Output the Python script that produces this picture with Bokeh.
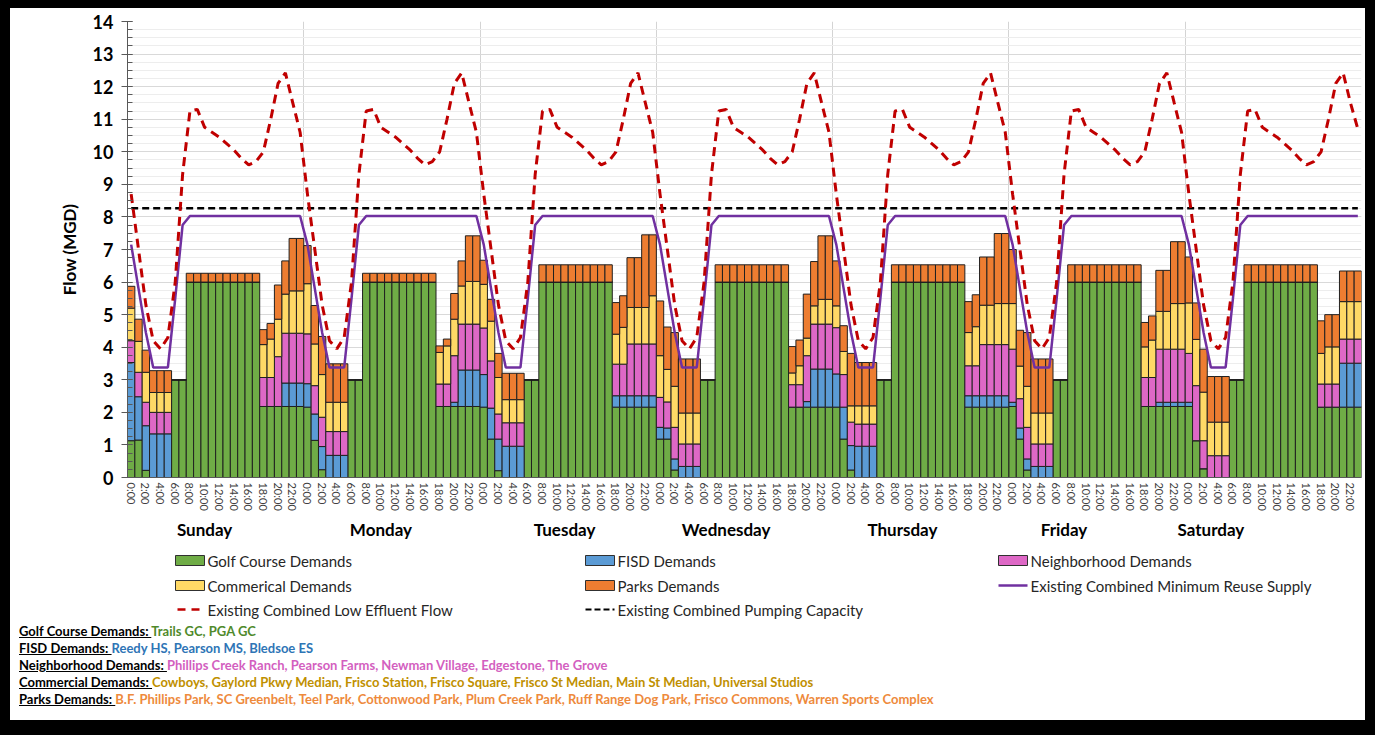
from bokeh.plotting import figure
from bokeh.models import ColumnDataSource, FixedTicker, SingleIntervalTicker, LinearAxis, Range1d, Div
from bokeh.layouts import column
from bokeh.embed import file_html
from bokeh.resources import INLINE
from bokeh.core.properties import value

# ---------------- data ----------------
DAYS = ["Sunday", "Monday", "Tuesday", "Wednesday", "Thursday", "Friday", "Saturday"]
DAY_LABEL_BAR = [10, 34, 59, 81, 105, 127, 147]
HOUR_LABELS = ["0:00", "1:00", "2:00", "3:00", "4:00", "5:00", "6:00", "7:00", "8:00", "9:00",
               "10:00", "11:00", "12:00", "13:00", "14:00", "15:00", "16:00", "17:00", "18:00",
               "19:00", "20:00", "21:00", "22:00", "23:00"]
SERIES = ["Golf Course Demands", "FISD Demands", "Neighborhood Demands", "Commerical Demands", "Parks Demands"]

golf = [
    1.13, 1.15, 0.22, 0, 0, 0, 3, 3, 6, 6, 6, 6, 6, 6, 6, 6, 6, 6, 2.18, 2.18, 2.18, 2.18, 2.18, 2.18,
    2.16, 1.14, 0.24, 0, 0, 0, 3, 3, 6, 6, 6, 6, 6, 6, 6, 6, 6, 6, 2.18, 2.18, 2.18, 2.18, 2.18, 2.18,
    2.16, 1.18, 0.21, 0, 0, 0, 3, 3, 6, 6, 6, 6, 6, 6, 6, 6, 6, 6, 2.16, 2.16, 2.16, 2.16, 2.16, 2.16,
    1.18, 1.18, 0.23, 0, 0, 0, 3, 3, 6, 6, 6, 6, 6, 6, 6, 6, 6, 6, 2.16, 2.16, 2.16, 2.16, 2.16, 2.16,
    2.16, 1.18, 0.23, 0, 0, 0, 3, 3, 6, 6, 6, 6, 6, 6, 6, 6, 6, 6, 2.16, 2.16, 2.16, 2.16, 2.16, 2.16,
    2.18, 1.18, 0.23, 0, 0, 0, 3, 3, 6, 6, 6, 6, 6, 6, 6, 6, 6, 6, 2.18, 2.18, 2.18, 2.18, 2.18, 2.18,
    2.18, 1.13, 0.27, 0, 0, 0, 3, 3, 6, 6, 6, 6, 6, 6, 6, 6, 6, 6, 2.16, 2.16, 2.16, 2.16, 2.16, 2.16,
]
fisd = [
    2.40, 1.33, 1.37, 1.34, 1.34, 1.34, 0, 0, 0, 0, 0, 0, 0, 0, 0, 0, 0, 0, 0, 0, 0, 0.72, 0.72, 0.72,
    0.72, 0.81, 0.71, 0.68, 0.68, 0.68, 0, 0, 0, 0, 0, 0, 0, 0, 0, 0, 0, 0, 0, 0, 0.13, 1.12, 1.12, 1.12,
    1.00, 0.95, 0.97, 0.96, 0.96, 0.96, 0, 0, 0, 0, 0, 0, 0, 0, 0, 0, 0, 0, 0.35, 0.35, 0.35, 0.35, 0.35, 0.35,
    0.36, 0.34, 0.34, 0.34, 0.34, 0.34, 0, 0, 0, 0, 0, 0, 0, 0, 0, 0, 0, 0, 0, 0, 0.17, 1.17, 1.17, 1.17,
    1.02, 0.98, 0.75, 0.96, 0.96, 0.96, 0, 0, 0, 0, 0, 0, 0, 0, 0, 0, 0, 0, 0.35, 0.35, 0.35, 0.35, 0.35, 0.35,
    0.13, 0.34, 0.34, 0.34, 0.34, 0.34, 0, 0, 0, 0, 0, 0, 0, 0, 0, 0, 0, 0, 0, 0, 0.13, 0.13, 0.13, 0.13,
    0.13, 0, 0, 0, 0, 0, 0, 0, 0, 0, 0, 0, 0, 0, 0, 0, 0, 0, 0, 0, 0, 1.35, 1.35, 1.35,
]
neighborhood = [
    0.67, 0.75, 0.72, 0.66, 0.66, 0.66, 0, 0, 0, 0, 0, 0, 0, 0, 0, 0, 0, 0, 0.89, 0.89, 1.53, 1.53, 1.53, 1.53,
    1.53, 0.87, 0.90, 0.73, 0.73, 0.73, 0, 0, 0, 0, 0, 0, 0, 0, 0, 0, 0, 0, 0.69, 0.69, 1.43, 1.41, 1.41, 1.41,
    1.43, 1.45, 0.77, 0.72, 0.72, 0.72, 0, 0, 0, 0, 0, 0, 0, 0, 0, 0, 0, 0, 0.97, 0.97, 1.59, 1.59, 1.59, 1.59,
    0.92, 0.80, 0.97, 0.69, 0.69, 0.69, 0, 0, 0, 0, 0, 0, 0, 0, 0, 0, 0, 0, 0.69, 0.69, 1.41, 1.38, 1.38, 1.38,
    1.42, 1.00, 0.72, 0.68, 0.68, 0.68, 0, 0, 0, 0, 0, 0, 0, 0, 0, 0, 0, 0, 0.92, 0.92, 1.57, 1.57, 1.57, 1.57,
    1.63, 0.90, 0.97, 0.69, 0.69, 0.69, 0, 0, 0, 0, 0, 0, 0, 0, 0, 0, 0, 0, 0.89, 0.89, 1.63, 1.63, 1.63, 1.63,
    1.50, 1.69, 0.86, 0.67, 0.67, 0.67, 0, 0, 0, 0, 0, 0, 0, 0, 0, 0, 0, 0, 0.71, 0.71, 0.71, 0.74, 0.74, 0.74,
]
commercial = [
    1.00, 0.95, 0.92, 0.61, 0.61, 0.61, 0, 0, 0, 0, 0, 0, 0, 0, 0, 0, 0, 0, 1.01, 1.18, 1.15, 1.20, 1.30, 1.30,
    1.54, 1.28, 1.31, 0.90, 0.90, 0.90, 0, 0, 0, 0, 0, 0, 0, 0, 0, 0, 0, 0, 0.97, 1.17, 1.12, 1.17, 1.31, 1.31,
    1.34, 1.22, 1.12, 0.71, 0.71, 0.71, 0, 0, 0, 0, 0, 0, 0, 0, 0, 0, 0, 0, 0.92, 1.13, 1.12, 1.12, 1.12, 1.48,
    1.28, 1.00, 1.26, 0.95, 0.95, 0.95, 0, 0, 0, 0, 0, 0, 0, 0, 0, 0, 0, 0, 0.36, 0.58, 0.54, 0.56, 0.76, 0.76,
    0.67, 0.71, 0.50, 0.56, 0.56, 0.56, 0, 0, 0, 0, 0, 0, 0, 0, 0, 0, 0, 0, 1.02, 1.20, 1.21, 1.21, 1.26, 1.26,
    1.40, 1.00, 1.26, 0.95, 0.95, 0.95, 0, 0, 0, 0, 0, 0, 0, 0, 0, 0, 0, 0, 0.94, 1.15, 1.16, 1.16, 1.40, 1.40,
    1.55, 1.42, 1.49, 1.03, 1.03, 1.03, 0, 0, 0, 0, 0, 0, 0, 0, 0, 0, 0, 0, 0.94, 1.14, 1.14, 1.15, 1.15, 1.15,
]
parks = [
    0.67, 0.68, 0.68, 0.67, 0.67, 0.67, 0, 0, 0.27, 0.27, 0.27, 0.27, 0.27, 0.27, 0.27, 0.27, 0.27, 0.27, 0.46, 0.48, 1.05, 1.02, 1.61, 1.61,
    1.17, 1.18, 1.17, 1.18, 1.18, 1.18, 0, 0, 0.27, 0.27, 0.27, 0.27, 0.27, 0.27, 0.27, 0.27, 0.27, 0.27, 0.20, 0.21, 0.79, 0.77, 1.40, 1.40,
    0.74, 0.67, 0.74, 0.81, 0.81, 0.81, 0, 0, 0.53, 0.53, 0.53, 0.53, 0.53, 0.53, 0.53, 0.53, 0.53, 0.53, 0.97, 0.97, 1.53, 1.53, 2.23, 1.87,
    1.68, 1.30, 1.65, 1.66, 1.66, 1.66, 0, 0, 0.53, 0.53, 0.53, 0.53, 0.53, 0.53, 0.53, 0.53, 0.53, 0.53, 0.81, 0.79, 1.35, 1.36, 1.95, 1.95,
    1.38, 0.79, 1.61, 1.33, 1.33, 1.33, 0, 0, 0.53, 0.53, 0.53, 0.53, 0.53, 0.53, 0.53, 0.53, 0.53, 0.53, 0.95, 0.98, 1.48, 1.48, 2.15, 2.15,
    1.66, 1.10, 1.65, 1.66, 1.66, 1.66, 0, 0, 0.53, 0.53, 0.53, 0.53, 0.53, 0.53, 0.53, 0.53, 0.53, 0.53, 0.75, 0.74, 1.26, 1.26, 1.90, 1.90,
    1.41, 1.12, 1.32, 1.40, 1.40, 1.40, 0, 0, 0.53, 0.53, 0.53, 0.53, 0.53, 0.53, 0.53, 0.53, 0.53, 0.53, 1.00, 0.99, 0.99, 0.94, 0.94, 0.94,
]
low_effluent = [
    8.7, 7.0, 5.3, 4.2, 3.95, 4.3, 6.0, 9.3, 11.25, 11.3, 10.75, 10.6, 10.45, 10.25, 10.05, 9.8, 9.6, 9.7, 10.0, 11.0, 12.1, 12.42, 11.5, 10.6,
    8.7, 7.0, 5.3, 4.2, 3.95, 4.3, 6.0, 9.3, 11.25, 11.3, 10.75, 10.6, 10.45, 10.25, 10.05, 9.8, 9.6, 9.7, 10.0, 11.0, 12.1, 12.42, 11.5, 10.6,
    8.7, 7.0, 5.3, 4.2, 3.95, 4.3, 6.0, 9.3, 11.25, 11.3, 10.75, 10.6, 10.45, 10.25, 10.05, 9.8, 9.6, 9.7, 10.0, 11.0, 12.1, 12.42, 11.5, 10.6,
    8.7, 7.0, 5.3, 4.2, 3.95, 4.3, 6.0, 9.3, 11.25, 11.3, 10.75, 10.6, 10.45, 10.25, 10.05, 9.8, 9.6, 9.7, 10.0, 11.0, 12.1, 12.42, 11.5, 10.6,
    8.7, 7.0, 5.3, 4.2, 3.95, 4.3, 6.0, 9.3, 11.25, 11.3, 10.75, 10.6, 10.45, 10.25, 10.05, 9.8, 9.6, 9.7, 10.0, 11.0, 12.1, 12.42, 11.5, 10.6,
    8.7, 7.0, 5.3, 4.2, 3.95, 4.3, 6.0, 9.3, 11.25, 11.3, 10.75, 10.6, 10.45, 10.25, 10.05, 9.8, 9.6, 9.7, 10.0, 11.0, 12.1, 12.42, 11.5, 10.6,
    8.7, 7.0, 5.3, 4.2, 3.95, 4.3, 6.0, 9.3, 11.25, 11.3, 10.75, 10.6, 10.45, 10.25, 10.05, 9.8, 9.6, 9.7, 10.0, 11.0, 12.1, 12.42, 11.5, 10.7,
]
min_reuse = [
    7.15, 5.8, 4.45, 3.38, 3.38, 3.38, 5.5, 7.75, 8.03, 8.03, 8.03, 8.03, 8.03, 8.03, 8.03, 8.03, 8.03, 8.03, 8.03, 8.03, 8.03, 8.03, 8.03, 8.03,
    7.15, 5.8, 4.45, 3.38, 3.38, 3.38, 5.5, 7.75, 8.03, 8.03, 8.03, 8.03, 8.03, 8.03, 8.03, 8.03, 8.03, 8.03, 8.03, 8.03, 8.03, 8.03, 8.03, 8.03,
    7.15, 5.8, 4.45, 3.38, 3.38, 3.38, 5.5, 7.75, 8.03, 8.03, 8.03, 8.03, 8.03, 8.03, 8.03, 8.03, 8.03, 8.03, 8.03, 8.03, 8.03, 8.03, 8.03, 8.03,
    7.15, 5.8, 4.45, 3.38, 3.38, 3.38, 5.5, 7.75, 8.03, 8.03, 8.03, 8.03, 8.03, 8.03, 8.03, 8.03, 8.03, 8.03, 8.03, 8.03, 8.03, 8.03, 8.03, 8.03,
    7.15, 5.8, 4.45, 3.38, 3.38, 3.38, 5.5, 7.75, 8.03, 8.03, 8.03, 8.03, 8.03, 8.03, 8.03, 8.03, 8.03, 8.03, 8.03, 8.03, 8.03, 8.03, 8.03, 8.03,
    7.15, 5.8, 4.45, 3.38, 3.38, 3.38, 5.5, 7.75, 8.03, 8.03, 8.03, 8.03, 8.03, 8.03, 8.03, 8.03, 8.03, 8.03, 8.03, 8.03, 8.03, 8.03, 8.03, 8.03,
    7.15, 5.8, 4.45, 3.38, 3.38, 3.38, 5.5, 7.75, 8.03, 8.03, 8.03, 8.03, 8.03, 8.03, 8.03, 8.03, 8.03, 8.03, 8.03, 8.03, 8.03, 8.03, 8.03, 8.03,
]
pumping_capacity = 8.27

NOTES = [
    ("Golf Course Demands:", "Trails GC, PGA GC"),
    ("FISD Demands:", "Reedy HS, Pearson MS, Bledsoe ES"),
    ("Neighborhood Demands:", "Phillips Creek Ranch, Pearson Farms, Newman Village, Edgestone, The Grove"),
    ("Commercial Demands:", "Cowboys, Gaylord Pkwy Median, Frisco Station, Frisco Square, Frisco St Median, Main St Median, Universal Studios"),
    ("Parks Demands:", "B.F. Phillips Park, SC Greenbelt, Teel Park, Cottonwood Park, Plum Creek Park, Ruff Range Dog Park, Frisco Commons, Warren Sports Complex"),
]

# ---------------- style ----------------
FONT_NAME = "Lato"
FONT = value(FONT_NAME)
BAR_COLORS = ["#6fac46", "#5b9bd5", "#de68c6", "#ffd966", "#ed7d31"]
NOTE_COLORS = ["#4f8a2b", "#2e75b6", "#d35fbf", "#bf9000", "#ee8a3c"]
RED = "#c00000"
PURPLE = "#7030a0"

W = 1355
HP = 537
HQ = 78
HD = 97
BL, BR = 117, 4

n = len(golf)
xs = list(range(n))
src = ColumnDataSource(dict(x=xs, golf=golf, fisd=fisd, neighborhood=neighborhood,
                            commercial=commercial, parks=parks,
                            low=low_effluent, reuse=min_reuse,
                            pump=[pumping_capacity] * n))

p = figure(width=W, height=HP, x_range=Range1d(-0.5, n - 0.5), y_range=Range1d(0, 14),
           output_backend="svg", toolbar_location=None,
           min_border_left=BL, min_border_right=BR, min_border_top=13, min_border_bottom=68,
           outline_line_color=None, background_fill_color="white", border_fill_color="white")

p.vbar_stack(["golf", "fisd", "neighborhood", "commercial", "parks"], x="x", width=1.0,
             fill_color=BAR_COLORS, line_color="#202020", line_width=1, source=src)

p.line("x", "reuse", source=src, line_color=PURPLE, line_width=2.5)
p.line("x", "pump", source=src, line_color="black", line_width=2.5, line_dash="7 4")
p.line("x", "low", source=src, line_color=RED, line_width=3, line_dash="9 6")

# y axis
p.yaxis.ticker = SingleIntervalTicker(interval=1, num_minor_ticks=4)
p.yaxis.axis_label = "Flow (MGD)"
p.yaxis.axis_label_text_font = FONT_NAME
p.yaxis.axis_label_text_font_size = "17px"
p.yaxis.axis_label_text_font_style = "bold"
p.yaxis.axis_label_text_color = "black"
p.yaxis.axis_label_standoff = 10
p.yaxis.major_label_text_font = FONT_NAME
p.yaxis.major_label_text_font_size = "18px"
p.yaxis.major_label_text_font_style = "bold"
p.yaxis.major_label_text_color = "black"
p.yaxis.major_label_standoff = 8
p.yaxis.axis_line_color = "#595959"
p.yaxis.major_tick_line_color = "#595959"
p.yaxis.minor_tick_line_color = "#595959"
p.yaxis.major_tick_in = 5
p.yaxis.major_tick_out = 6
p.yaxis.minor_tick_in = 5
p.yaxis.minor_tick_out = 0

p.ygrid.ticker = SingleIntervalTicker(interval=1, num_minor_ticks=4)
p.ygrid.grid_line_color = "#d9d9d9"
p.ygrid.minor_grid_line_color = "#ededed"

p.xgrid.ticker = FixedTicker(ticks=[24 * k - 0.5 for k in range(1, 7)])
p.xgrid.grid_line_color = "#d4d4d4"

# hour axis
p.xaxis.ticker = FixedTicker(ticks=list(range(0, n, 2)))
p.xaxis.major_label_overrides = {i: HOUR_LABELS[i % 24] for i in range(0, n, 2)}
p.xaxis.major_label_orientation = "vertical"
p.xaxis.major_label_text_font = FONT_NAME
p.xaxis.major_label_text_font_size = "11px"
p.xaxis.major_label_text_color = "#404040"
p.xaxis.major_label_standoff = 5
p.xaxis.major_tick_out = 0
p.xaxis.major_tick_in = 0
p.xaxis.minor_tick_line_color = None
p.xaxis.axis_line_color = "#595959"

# day axis
day_axis = LinearAxis(ticker=FixedTicker(ticks=DAY_LABEL_BAR),
                      major_label_overrides={b: d for b, d in zip(DAY_LABEL_BAR, DAYS)},
                      axis_line_color=None, major_tick_line_color=None, minor_tick_line_color=None,
                      major_tick_out=0, major_tick_in=0,
                      major_label_text_font=FONT_NAME, major_label_text_font_size="17px",
                      major_label_text_font_style="bold", major_label_text_color="black",
                      major_label_standoff=5)
p.add_layout(day_axis, "below")

# ---------------- legend (canvas pixel coordinates inside an aligned frame) ----------------
q = figure(width=W, height=HQ, x_range=Range1d(BL, W - BR), y_range=Range1d(HQ, 0),
           output_backend="svg", toolbar_location=None, x_axis_type=None, y_axis_type=None,
           min_border_left=BL, min_border_right=BR, min_border_top=0, min_border_bottom=0,
           outline_line_color=None, background_fill_color="white", border_fill_color="white")
q.grid.visible = False

col_x = [165, 575, 988]
row_y = [15, 40, 64]
box_w = 29
legend_entries = [
    ("box", BAR_COLORS[0], 0, 0, SERIES[0]),
    ("box", BAR_COLORS[1], 1, 0, SERIES[1]),
    ("box", BAR_COLORS[2], 2, 0, SERIES[2]),
    ("box", BAR_COLORS[3], 0, 1, SERIES[3]),
    ("box", BAR_COLORS[4], 1, 1, SERIES[4]),
    ("solid", PURPLE, 2, 1, "Existing Combined Minimum Reuse Supply"),
    ("reddash", RED, 0, 2, "Existing Combined Low Effluent Flow"),
    ("blackdash", "black", 1, 2, "Existing Combined Pumping Capacity"),
]
for kind, c, ci, ri, label in legend_entries:
    x0 = col_x[ci]
    y0 = row_y[ri]
    if kind == "box":
        q.rect(x=[x0 + box_w / 2], y=[y0], width=box_w, height=10, fill_color=c,
               line_color="#303030", line_width=1)
    elif kind == "solid":
        q.line([x0, x0 + box_w], [y0, y0], line_color=c, line_width=2.5)
    elif kind == "reddash":
        q.line([x0 + 2, x0 + box_w], [y0, y0], line_color=c, line_width=2.5, line_dash="8 6")
    else:
        q.line([x0, x0 + box_w], [y0, y0], line_color=c, line_width=2, line_dash="6 3")
    q.text(x=[x0 + box_w + 3], y=[y0], text=[label], text_font=FONT, text_font_size="15px",
           text_baseline="middle", text_align="left", text_color="#262626")

# ---------------- notes ----------------
row_style = ("height:17px;line-height:17px;white-space:nowrap;font-family:Lato,sans-serif;"
             "font-size:13px;font-weight:bold;")
notes_html = "".join(
    f'<div style="{row_style}"><span style="color:#000000;text-decoration:underline;">{prefix}&nbsp;</span>'
    f'<span style="color:{col};">{items}</span></div>'
    for (prefix, items), col in zip(NOTES, NOTE_COLORS)
)
notes = Div(text=notes_html, width=W, height=HD, margin=(0, 0, 0, 0),
            styles={"background-color": "white", "padding-left": "9px", "padding-top": "0px",
                    "box-sizing": "border-box"})

layout = column(p, q, notes, spacing=0, styles={"background-color": "white"})
html = file_html(layout, INLINE, title="Flow (MGD)")
page_style = ("<style>html, body { background-color: #000000 !important; } "
              "body { padding: 8px 0 0 10px !important; }</style>")
html = html.replace("</head>", page_style + "</head>", 1)
open("out.html", "w").write(html)
